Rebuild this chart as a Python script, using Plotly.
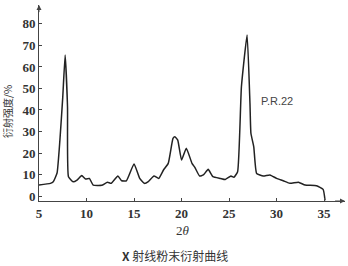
import plotly.graph_objects as go

two_theta = [5.0, 6.2, 6.5, 6.9, 7.2, 7.5, 7.75, 8.0, 8.1, 8.6, 9.0, 9.5, 9.9, 10.3, 10.7,
             11.6, 12.2, 12.6, 13.3, 13.7, 14.2, 15.0, 15.6, 16.1, 16.5, 17.1, 17.6, 18.1,
             18.6, 19.1, 19.3, 19.6, 20.0, 20.5, 21.1, 21.4, 21.9, 22.3, 22.8, 23.3, 24.1,
             24.6, 25.2, 25.5, 25.9, 26.3, 26.9, 27.2, 27.3, 27.6, 27.9, 28.6, 29.3, 30.0,
             30.7, 31.4, 32.3, 33.0, 34.2, 34.9, 35.1]
intensity = [5.1, 5.9, 6.6, 10.7, 26.0, 46.0, 65.6, 41.5, 9.0, 6.6, 7.4, 9.5, 7.9, 8.2, 5.1,
             5.0, 6.4, 5.9, 9.3, 7.1, 7.1, 14.9, 8.2, 5.9, 6.7, 9.3, 8.2, 12.1,
             15.2, 26.8, 27.6, 26.0, 16.7, 22.2, 15.2, 13.3, 9.3, 9.8, 12.4, 9.0, 8.2,
             7.7, 9.3, 8.7, 11.3, 50.8, 74.9, 43.0, 29.2, 22.9, 10.5, 9.3, 9.8, 8.2,
             7.1, 5.9, 6.4, 5.1, 4.8, 3.1, -2.0]

x_ticks = [5, 10, 15, 20, 25, 30, 35]
y_ticks = [0, 10, 20, 30, 40, 50, 60, 70, 80]

X_RANGE = [5, 37.2]
Y_RANGE = [-2.3, 88.8]

fig = go.Figure()
fig.add_trace(go.Scatter(x=two_theta, y=intensity, mode="lines",
                         line=dict(color="#222222", width=1.5, shape="spline", smoothing=0.4),
                         hoverinfo="skip", showlegend=False))

SERIF = "Liberation Serif"
tickfont = dict(family=SERIF, size=13, color="#333333", weight="bold")
fig.update_xaxes(range=X_RANGE, tickvals=x_ticks, ticktext=[str(v) for v in x_ticks],
                 showline=True, linecolor="#444444", linewidth=1, ticks="inside", ticklen=3,
                 tickcolor="#444444", showgrid=False, zeroline=False, tickfont=tickfont)
fig.update_yaxes(range=Y_RANGE, tickvals=y_ticks, ticktext=[str(v) for v in y_ticks],
                 showline=True, linecolor="#444444", linewidth=1, ticks="inside", ticklen=3,
                 tickcolor="#444444", showgrid=False, zeroline=False, tickfont=tickfont)

annotations = [
    dict(x=X_RANGE[1], y=Y_RANGE[0], ax=X_RANGE[1] - 1.2, ay=Y_RANGE[0], xref="x", yref="y",
         axref="x", ayref="y", showarrow=True, arrowhead=2, arrowsize=1, arrowwidth=1,
         arrowcolor="#444444", text=""),
    dict(x=X_RANGE[0], y=Y_RANGE[1], ax=X_RANGE[0], ay=Y_RANGE[1] - 4, xref="x", yref="y",
         axref="x", ayref="y", showarrow=True, arrowhead=2, arrowsize=1, arrowwidth=1,
         arrowcolor="#444444", text=""),
    dict(x=30.05, y=44.2, xref="x", yref="y", text="P.R.22", showarrow=False,
         xanchor="center", yanchor="middle",
         font=dict(family="Liberation Sans", size=11, color="#444444")),
    dict(x=-0.105, y=0.459, xref="paper", yref="paper", text="衍射强度/%", textangle=-90,
         showarrow=False, xanchor="center", yanchor="middle",
         font=dict(family="Noto Sans CJK SC", size=10, color="#333333")),
    dict(x=0.47, y=-0.15, xref="paper", yref="paper", text="2<i>θ</i>", showarrow=False,
         xanchor="center", yanchor="middle",
         font=dict(family=SERIF, size=13, color="#333333")),
    dict(x=0.444, y=-0.276, xref="paper", yref="paper",
         text="<b>X</b> 射线粉末衍射曲线", showarrow=False,
         xanchor="center", yanchor="middle",
         font=dict(family="Noto Sans CJK SC", size=12, color="#333333")),
]

fig.update_layout(width=348, height=266, margin=dict(l=39, r=3, t=5, b=65),
                  paper_bgcolor="white", plot_bgcolor="white", annotations=annotations)

fig.write_html("out.html")
